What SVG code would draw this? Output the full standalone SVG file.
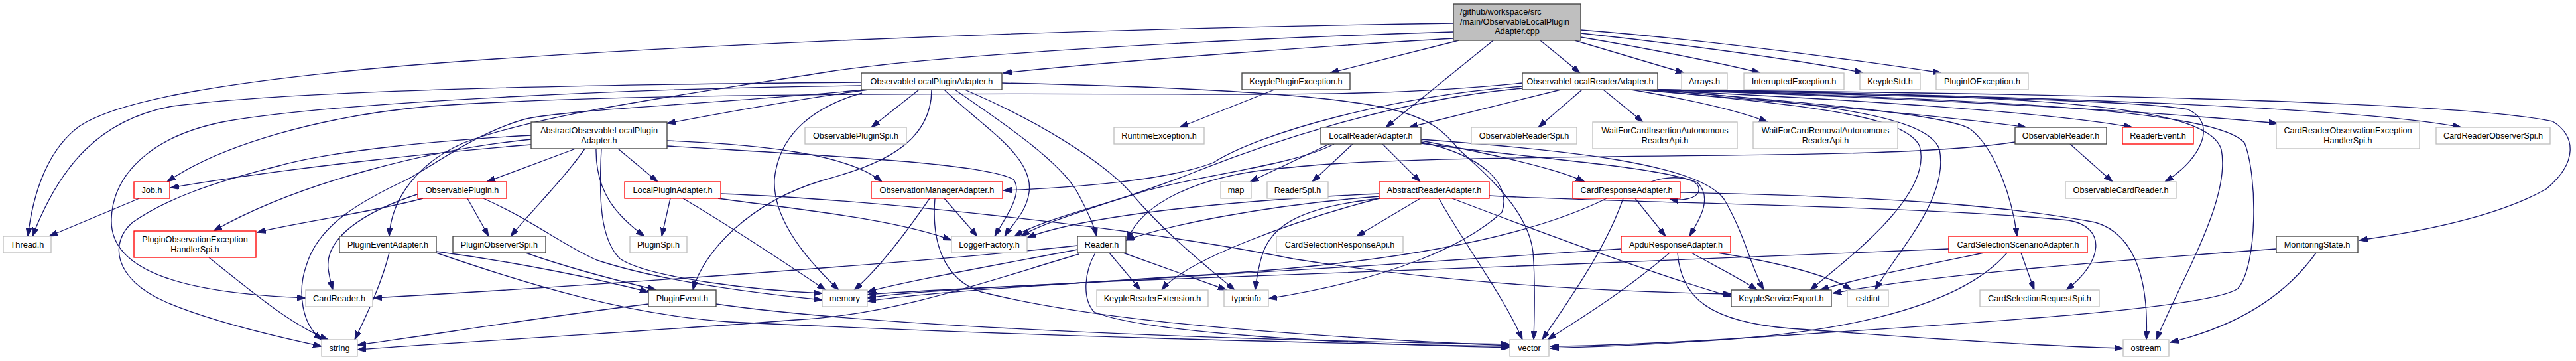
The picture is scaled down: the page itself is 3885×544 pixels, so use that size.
<svg xmlns="http://www.w3.org/2000/svg" width="3885" height="544" viewBox="0 0 3885 544">
<style>
.e{fill:none;stroke:#191970;stroke-width:1.33;marker-end:url(#a)}
.n rect{fill:#fff;stroke-width:1.33}
.k rect{stroke:#404040}
.g rect{stroke:#bfbfbf}
.r rect{stroke:#ff0000}
text{font-family:"Liberation Sans",Arial,Helvetica,sans-serif;font-size:12.7px;fill:#000;text-anchor:middle}
</style>
<defs>
<marker id="a" viewBox="0 0 13 9" refX="13" refY="4.5" markerWidth="13" markerHeight="9" markerUnits="userSpaceOnUse" orient="auto"><path d="M0,0L13,4.5L0,9z" fill="#191970" stroke="#191970" stroke-width="1"/></marker>
</defs>
<rect width="3885" height="544" fill="#fff"/>
<g id="edges">
<path class="e" d="M2192,58 C2050,66 1700,90 1513,110"/>
<path class="e" d="M2200,61 L2006,110"/>
<path class="e" d="M2252,61 L2090,192"/>
<path class="e" d="M2323,61 L2383,110"/>
<path class="e" d="M2375,61 L2540,110"/>
<path class="e" d="M2384,56 C2480,72 2600,96 2655,110"/>
<path class="e" d="M2384,50 C2550,68 2750,96 2810,110"/>
<path class="e" d="M2384,45 C2600,62 2850,98 2928,110"/>
<path class="e" d="M2192,35 C1500,45 900,75 600,100 C350,122 180,150 120,190 C72,225 50,290 42,356"/>
<path class="e" d="M2192,48 C1800,60 1400,85 1250,108 C1050,140 820,170 700,215 C630,245 590,300 587,356"/>
<path class="e" d="M1310,135 C1200,150 1080,172 1006,186"/>
<path class="e" d="M1386,135 L1314,192"/>
<path class="e" d="M1299,124 C900,127 450,135 260,160 C150,180 90,250 49,356"/>
<path class="e" d="M1299,129 C1000,132 520,152 340,183 C225,205 170,265 168,330 C165,410 280,442 461,449"/>
<path class="e" d="M1424,135 C1480,190 1560,235 1552,290 C1548,320 1525,340 1515,356"/>
<path class="e" d="M1440,135 C1520,190 1600,245 1625,290 C1640,318 1650,340 1654,356"/>
<path class="e" d="M1455,135 C1560,180 1660,240 1705,290 C1760,355 1830,410 1862,437"/>
<path class="e" d="M1405,135 C1405,220 1320,250 1240,272 C1130,305 1060,380 1045,437"/>
<path class="e" d="M1300,140 C1230,160 1175,200 1168,270 C1165,330 1215,390 1265,437"/>
<path class="e" d="M1511,125 C1750,130 2000,140 2100,165 C2160,180 2180,200 2200,225 C2250,270 2305,320 2312,380 C2316,430 2314,480 2313,512"/>
<path class="e" d="M1305,135 C1100,155 850,165 790,180 C720,200 660,245 615,270 C540,305 480,340 462,400 C448,440 455,490 486,512"/>
<path class="e" d="M1922,135 L1779,192"/>
<path class="e" d="M2354,135 L2125,192"/>
<path class="e" d="M2386,135 L2320,192"/>
<path class="e" d="M2418,135 L2478,184"/>
<path class="e" d="M2460,135 C2560,152 2625,168 2666,184"/>
<path class="e" d="M2470,135 C2700,155 2950,176 3056,192"/>
<path class="e" d="M2478,135 C2800,150 3100,170 3216,192"/>
<path class="e" d="M2490,135 C2900,148 3250,168 3435,186"/>
<path class="e" d="M2495,135 C3000,143 3550,160 3712,192"/>
<path class="e" d="M2498,135 C3000,140 3700,150 3850,183 C3885,205 3888,245 3840,285 C3760,330 3630,352 3558,362"/>
<path class="e" d="M2497,135 C2900,146 3220,150 3300,165 C3345,185 3320,240 3265,274"/>
<path class="e" d="M2490,135 C2700,152 2940,172 2972,195 C3010,225 3035,300 3042,356"/>
<path class="e" d="M2480,135 C2700,158 2870,170 2895,220 C2915,290 2800,380 2730,437"/>
<path class="e" d="M2490,134 C2720,155 2905,170 2925,225 C2940,300 2860,380 2828,437"/>
<path class="e" d="M2296,125 C2150,140 2000,143 1800,142 C1400,140 900,142 650,160 C480,175 330,220 252,274"/>
<path class="e" d="M2296,130 C2100,145 1900,200 1830,245 C1760,272 1620,283 1513,287"/>
<path class="e" d="M2296,133 C2100,150 1900,220 1800,260 C1700,300 1580,330 1540,356"/>
<path class="e" d="M2499,135 C3000,150 3340,165 3385,215 C3405,265 3405,400 3375,435 C3330,465 3000,485 2700,505 C2500,518 2400,522 2338,522"/>
<path class="e" d="M2496,135 C3100,143 3330,160 3350,225 C3365,300 3290,420 3252,512"/>
<path class="e" d="M2005,217 L1885,274"/>
<path class="e" d="M2040,217 L1979,274"/>
<path class="e" d="M2085,217 L2142,274"/>
<path class="e" d="M2143,212 C2250,232 2350,255 2390,274"/>
<path class="e" d="M2143,216 C2300,238 2500,250 2560,275 C2585,300 2560,335 2548,356"/>
<path class="e" d="M2012,217 C1950,250 1800,265 1720,290 C1640,315 1565,335 1530,356"/>
<path class="e" d="M2143,214 C2240,235 2280,280 2265,320 C2210,370 2100,420 1913,450"/>
<path class="e" d="M2143,210 C2350,225 2560,245 2600,300 C2630,350 2640,400 2660,437"/>
<path class="e" d="M2142,299 L2046,356"/>
<path class="e" d="M2170,299 C2210,370 2270,450 2296,512"/>
<path class="e" d="M2190,299 C2350,360 2500,415 2611,447"/>
<path class="e" d="M2080,292 C1900,300 1650,320 1549,358"/>
<path class="e" d="M2080,296 C1900,310 1760,340 1698,362"/>
<path class="e" d="M2080,299 C1960,330 1790,390 1752,437"/>
<path class="e" d="M2082,299 C1960,312 1920,340 1905,380 C1898,400 1895,420 1893,437"/>
<path class="e" d="M2246,295 C2450,306 2900,310 3120,332 C3178,342 3172,395 3116,437"/>
<path class="e" d="M2466,299 L2512,356"/>
<path class="e" d="M2448,299 C2420,380 2360,460 2326,512"/>
<path class="e" d="M2423,299 C2300,360 2100,395 1850,412 C1600,428 1400,440 1308,454"/>
<path class="e" d="M2534,290 C2800,296 3000,305 3160,335 C3228,355 3240,440 3237,512"/>
<path class="e" d="M2490,274 C2520,262 2565,268 2562,287 C2560,300 2535,303 2518,300"/>
<path class="e" d="M2518,381 C2450,440 2375,485 2334,512"/>
<path class="e" d="M2445,375 C2200,392 1800,418 1600,428 C1450,435 1350,440 1308,444"/>
<path class="e" d="M2551,381 C2585,400 2625,420 2650,437"/>
<path class="e" d="M2590,381 C2680,395 2760,415 2792,437"/>
<path class="e" d="M2530,381 C2535,450 2580,485 2700,495 C2900,510 3100,522 3202,525"/>
<path class="e" d="M3048,381 L3068,437"/>
<path class="e" d="M2992,381 C2900,400 2800,420 2745,437"/>
<path class="e" d="M2939,375 C2600,392 2000,410 1700,423 C1500,432 1360,440 1308,449"/>
<path class="e" d="M3027,381 C2950,470 2750,505 2550,515 C2450,522 2380,523 2338,525"/>
<path class="e" d="M3433,375 C3200,392 2900,415 2764,442"/>
<path class="e" d="M3493,381 C3440,455 3360,495 3273,516"/>
<path class="e" d="M3122,217 L3186,274"/>
<path class="e" d="M3039,214 C2950,228 2800,232 2600,234 C2300,237 2050,240 1950,252 C1800,262 1720,310 1700,362"/>
<path class="e" d="M210,299 L74,356"/>
<path class="e" d="M868,224 L734,274"/>
<path class="e" d="M932,224 L992,274"/>
<path class="e" d="M882,224 C850,270 800,320 770,356"/>
<path class="e" d="M899,224 C898,290 930,325 972,356"/>
<path class="e" d="M907,224 C903,300 905,360 935,390 C980,420 1150,438 1240,442"/>
<path class="e" d="M1006,212 C1150,218 1280,232 1330,274"/>
<path class="e" d="M1006,220 C1250,235 1480,245 1528,270 C1545,290 1515,330 1500,356"/>
<path class="e" d="M801,218 C650,230 420,255 257,283"/>
<path class="e" d="M801,210 C650,225 450,275 322,348"/>
<path class="e" d="M801,204 C650,212 500,228 420,250 C320,275 250,300 200,335 C165,365 170,420 250,455 C320,485 420,508 485,522"/>
<path class="e" d="M705,299 L737,356"/>
<path class="e" d="M638,299 C560,320 450,335 388,350"/>
<path class="e" d="M729,299 C800,330 850,370 900,392 C1000,425 1150,443 1240,452"/>
<path class="e" d="M632,292 C545,320 490,360 495,405 C497,420 500,430 502,437"/>
<path class="e" d="M1011,299 L998,356"/>
<path class="e" d="M1030,299 C1100,340 1190,400 1245,437"/>
<path class="e" d="M1083,299 C1200,315 1350,330 1435,362"/>
<path class="e" d="M1087,292 C1300,300 1700,340 1950,390 C2200,430 2450,440 2611,443"/>
<path class="e" d="M1424,299 L1474,356"/>
<path class="e" d="M1402,299 C1360,360 1320,410 1288,437"/>
<path class="e" d="M1410,299 C1405,360 1420,420 1480,440 C1600,470 1800,500 2277,521"/>
<path class="e" d="M1625,370 C1400,395 900,430 563,449"/>
<path class="e" d="M1625,376 C1500,400 1360,425 1308,440"/>
<path class="e" d="M1673,381 L1720,437"/>
<path class="e" d="M1694,381 L1850,437"/>
<path class="e" d="M1652,381 C1635,410 1632,450 1650,470 C1720,500 2000,518 2277,524"/>
<path class="e" d="M1627,383 C1500,420 1350,475 1200,482 C1000,498 700,515 539,527"/>
<path class="e" d="M658,379 C780,395 900,420 978,440"/>
<path class="e" d="M587,381 C575,430 550,480 535,512"/>
<path class="e" d="M658,381 C800,430 950,475 1100,485 C1500,505 2000,518 2277,522"/>
<path class="e" d="M793,381 C860,405 940,425 990,437"/>
<path class="e" d="M978,458 C800,480 650,505 539,520"/>
<path class="e" d="M1080,458 C1300,490 1800,512 2277,519"/>
<path class="e" d="M315,388 C380,440 440,490 495,512"/>
</g>
<g id="n_root" class="n"><rect x="2192" y="6" width="192" height="55" style="fill:#bfbfbf;stroke:#404040"/><text x="2202" y="22" style="text-anchor:start">/github/workspace/src</text><text x="2202" y="36.5" style="text-anchor:start">/main/ObservableLocalPlugin</text><text x="2288" y="51">Adapter.cpp</text></g>
<g id="n_olpa" class="n k"><rect x="1299" y="110" width="212" height="25"/><text x="1405" y="127">ObservableLocalPluginAdapter.h</text></g>
<g id="n_kpe" class="n k"><rect x="1873" y="110" width="163" height="25"/><text x="1954.5" y="127">KeyplePluginException.h</text></g>
<g id="n_olra" class="n k"><rect x="2296" y="110" width="204" height="25"/><text x="2398" y="127">ObservableLocalReaderAdapter.h</text></g>
<g id="n_arrays" class="n g"><rect x="2536" y="110" width="69" height="25"/><text x="2570.5" y="127">Arrays.h</text></g>
<g id="n_intex" class="n g"><rect x="2630" y="110" width="151" height="25"/><text x="2705.5" y="127">InterruptedException.h</text></g>
<g id="n_kstd" class="n g"><rect x="2805" y="110" width="91" height="25"/><text x="2850.5" y="127">KeypleStd.h</text></g>
<g id="n_pioe" class="n g"><rect x="2920" y="110" width="139" height="25"/><text x="2989.5" y="127">PluginIOException.h</text></g>
<g id="n_aolpa" class="n k"><rect x="801" y="184" width="205" height="40"/><text x="903.5" y="201">AbstractObservableLocalPlugin</text><text x="903.5" y="216">Adapter.h</text></g>
<g id="n_opspi" class="n g"><rect x="1214" y="192" width="153" height="25"/><text x="1290.5" y="209">ObservablePluginSpi.h</text></g>
<g id="n_runex" class="n g"><rect x="1680" y="192" width="136" height="25"/><text x="1748" y="209">RuntimeException.h</text></g>
<g id="n_lra" class="n k"><rect x="1992" y="192" width="151" height="25"/><text x="2067.5" y="209">LocalReaderAdapter.h</text></g>
<g id="n_orspi" class="n g"><rect x="2219" y="192" width="159" height="25"/><text x="2298.5" y="209">ObservableReaderSpi.h</text></g>
<g id="n_wfci" class="n g"><rect x="2402" y="184" width="218" height="40"/><text x="2511" y="201">WaitForCardInsertionAutonomous</text><text x="2511" y="216">ReaderApi.h</text></g>
<g id="n_wfcr" class="n g"><rect x="2644" y="184" width="218" height="40"/><text x="2753" y="201">WaitForCardRemovalAutonomous</text><text x="2753" y="216">ReaderApi.h</text></g>
<g id="n_or" class="n k"><rect x="3039" y="192" width="138" height="25"/><text x="3108" y="209">ObservableReader.h</text></g>
<g id="n_rev" class="n r"><rect x="3201" y="192" width="107" height="25"/><text x="3254.5" y="209">ReaderEvent.h</text></g>
<g id="n_croeh" class="n g"><rect x="3433" y="184" width="216" height="40"/><text x="3541" y="201">CardReaderObservationException</text><text x="3541" y="216">HandlerSpi.h</text></g>
<g id="n_cros" class="n g"><rect x="3674" y="192" width="172" height="25"/><text x="3760" y="209">CardReaderObserverSpi.h</text></g>
<g id="n_job" class="n r"><rect x="202" y="274" width="54" height="25"/><text x="229" y="291">Job.h</text></g>
<g id="n_op" class="n r"><rect x="630" y="274" width="134" height="25"/><text x="697" y="291">ObservablePlugin.h</text></g>
<g id="n_lpa" class="n r"><rect x="942" y="274" width="145" height="25"/><text x="1014.5" y="291">LocalPluginAdapter.h</text></g>
<g id="n_oma" class="n r"><rect x="1314" y="274" width="198" height="25"/><text x="1413" y="291">ObservationManagerAdapter.h</text></g>
<g id="n_map" class="n g"><rect x="1841" y="274" width="46" height="25"/><text x="1864" y="291">map</text></g>
<g id="n_rspi" class="n g"><rect x="1911" y="274" width="92" height="25"/><text x="1957" y="291">ReaderSpi.h</text></g>
<g id="n_ara" class="n r"><rect x="2080" y="274" width="166" height="25"/><text x="2163" y="291">AbstractReaderAdapter.h</text></g>
<g id="n_cra" class="n r"><rect x="2372" y="274" width="162" height="25"/><text x="2453" y="291">CardResponseAdapter.h</text></g>
<g id="n_ocr" class="n g"><rect x="3115" y="274" width="167" height="25"/><text x="3198.5" y="291">ObservableCardReader.h</text></g>
<g id="n_thread" class="n g"><rect x="5" y="356" width="72" height="25"/><text x="41" y="373">Thread.h</text></g>
<g id="n_poeh" class="n r"><rect x="202" y="348" width="184" height="40"/><text x="294" y="365">PluginObservationException</text><text x="294" y="380">HandlerSpi.h</text></g>
<g id="n_pea" class="n k"><rect x="512" y="356" width="146" height="25"/><text x="585" y="373">PluginEventAdapter.h</text></g>
<g id="n_pos" class="n k"><rect x="683" y="356" width="140" height="25"/><text x="753" y="373">PluginObserverSpi.h</text></g>
<g id="n_pspi" class="n g"><rect x="950" y="356" width="86" height="25"/><text x="993" y="373">PluginSpi.h</text></g>
<g id="n_lf" class="n g"><rect x="1435" y="356" width="114" height="25"/><text x="1492" y="373">LoggerFactory.h</text></g>
<g id="n_reader" class="n k"><rect x="1625" y="356" width="73" height="25"/><text x="1661.5" y="373">Reader.h</text></g>
<g id="n_csrapi" class="n g"><rect x="1925" y="356" width="191" height="25"/><text x="2020.5" y="373">CardSelectionResponseApi.h</text></g>
<g id="n_arespa" class="n r"><rect x="2445" y="356" width="165" height="25"/><text x="2527.5" y="373">ApduResponseAdapter.h</text></g>
<g id="n_cssa" class="n r"><rect x="2939" y="356" width="209" height="25"/><text x="3043.5" y="373">CardSelectionScenarioAdapter.h</text></g>
<g id="n_ms" class="n k"><rect x="3433" y="356" width="123" height="25"/><text x="3494.5" y="373">MonitoringState.h</text></g>
<g id="n_cr" class="n g"><rect x="461" y="437" width="101" height="25"/><text x="511.5" y="454">CardReader.h</text></g>
<g id="n_pe" class="n k"><rect x="978" y="437" width="102" height="25"/><text x="1029" y="454">PluginEvent.h</text></g>
<g id="n_memory" class="n g"><rect x="1240" y="437" width="68" height="25"/><text x="1274" y="454">memory</text></g>
<g id="n_kre" class="n g"><rect x="1654" y="437" width="168" height="25"/><text x="1738" y="454">KeypleReaderExtension.h</text></g>
<g id="n_typeinfo" class="n g"><rect x="1846" y="437" width="67" height="25"/><text x="1879.5" y="454">typeinfo</text></g>
<g id="n_kse" class="n k"><rect x="2611" y="437" width="151" height="25"/><text x="2686.5" y="454">KeypleServiceExport.h</text></g>
<g id="n_cstdint" class="n g"><rect x="2786" y="437" width="62" height="25"/><text x="2817" y="454">cstdint</text></g>
<g id="n_csreqspi" class="n g"><rect x="2986" y="437" width="180" height="25"/><text x="3076" y="454">CardSelectionRequestSpi.h</text></g>
<g id="n_string" class="n g"><rect x="485" y="512" width="54" height="25"/><text x="512" y="529">string</text></g>
<g id="n_vector" class="n g"><rect x="2277" y="512" width="59" height="25"/><text x="2306.5" y="529">vector</text></g>
<g id="n_ostream" class="n g"><rect x="3202" y="512" width="69" height="25"/><text x="3236.5" y="529">ostream</text></g>
</svg>
